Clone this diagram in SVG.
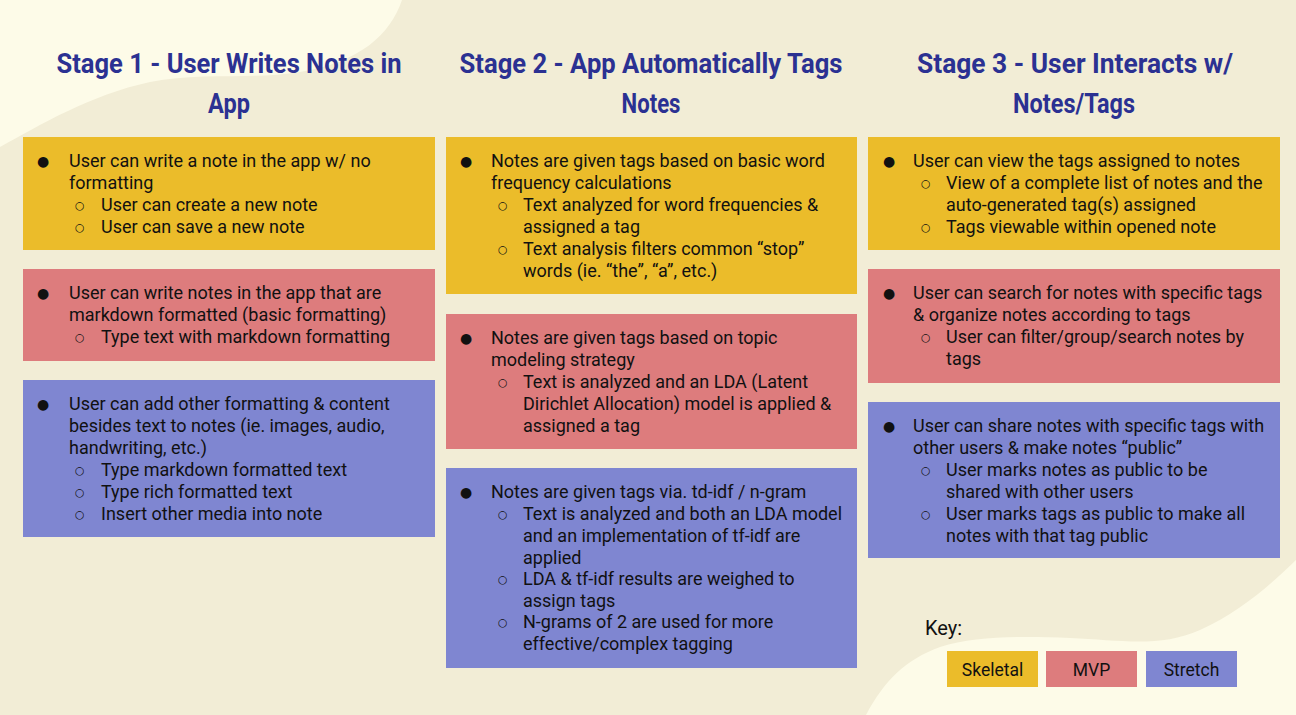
<svg xmlns="http://www.w3.org/2000/svg" width="1296" height="715" viewBox="0 0 1296 715">
<style>
.title{font-family:"Liberation Sans Narrow","Roboto",sans-serif;font-weight:bold;font-size:28px;fill:#2B3192;text-anchor:middle}
.t{font-family:"Roboto","Liberation Sans",sans-serif;font-size:18px;fill:#111}
.b{font-family:"DejaVu Sans",sans-serif;font-size:14px;fill:#111}
.c{font-family:"DejaVu Sans",sans-serif;font-size:11px;fill:#111}
.sk{fill:#EBBC2A}
.mvp{fill:#DD7C7D}
.st{fill:#7F86D1}
.keyt{font-family:"Roboto","Liberation Sans",sans-serif;font-size:17.5px;fill:#111;text-anchor:middle}
</style>
<rect width="1296" height="715" fill="#F2EDD6"/>
<path d="M0,0 L402,0 C390,35 360,62 300,72 C250,80 200,72 150,82 C90,95 40,125 0,147 Z" fill="#FDFBE8"/>
<path d="M866,715 C885,680 905,660 940,647 C975,636 1020,636 1070,638 C1120,640 1160,648 1200,630 C1240,612 1270,585 1296,560 L1296,715 Z" fill="#FDFBE8"/>

<g id="titles">
<text class="title" x="229" y="73" textLength="345" lengthAdjust="spacingAndGlyphs">Stage 1 - User Writes Notes in</text>
<text class="title" x="229" y="113" textLength="42" lengthAdjust="spacingAndGlyphs">App</text>
<text class="title" x="651" y="73" textLength="383" lengthAdjust="spacingAndGlyphs">Stage 2 - App Automatically Tags</text>
<text class="title" x="651" y="113" textLength="59" lengthAdjust="spacingAndGlyphs">Notes</text>
<text class="title" x="1075" y="73" textLength="316" lengthAdjust="spacingAndGlyphs">Stage 3 - User Interacts w/</text>
<text class="title" x="1074" y="113" textLength="122" lengthAdjust="spacingAndGlyphs">Notes/Tags</text>
</g>

<g id="s1-skeletal">
<rect class="sk" x="23" y="137" width="412" height="113"/>
<text class="b" x="37" y="166">●</text>
<text class="t" x="69" y="167">User can write a note in the app w/ no</text>
<text class="t" x="69" y="189">formatting</text>
<text class="c" x="75" y="209">○</text>
<text class="t" x="101" y="211">User can create a new note</text>
<text class="c" x="75" y="231">○</text>
<text class="t" x="101" y="233">User can save a new note</text>
</g>

<g id="s1-mvp">
<rect class="mvp" x="23" y="269" width="412" height="92"/>
<text class="b" x="37" y="298">●</text>
<text class="t" x="69" y="299">User can write notes in the app that are</text>
<text class="t" x="69" y="321">markdown formatted (basic formatting)</text>
<text class="c" x="75" y="341">○</text>
<text class="t" x="101" y="343">Type text with markdown formatting</text>
</g>

<g id="s1-stretch">
<rect class="st" x="23" y="380" width="412" height="157"/>
<text class="b" x="37" y="409">●</text>
<text class="t" x="69" y="410">User can add other formatting &amp; content</text>
<text class="t" x="69" y="432">besides text to notes (ie. images, audio,</text>
<text class="t" x="69" y="454">handwriting, etc.)</text>
<text class="c" x="75" y="474">○</text>
<text class="t" x="101" y="476">Type markdown formatted text</text>
<text class="c" x="75" y="496">○</text>
<text class="t" x="101" y="498">Type rich formatted text</text>
<text class="c" x="75" y="518">○</text>
<text class="t" x="101" y="520">Insert other media into note</text>
</g>

<g id="s2-skeletal">
<rect class="sk" x="446" y="137" width="411" height="157"/>
<text class="b" x="460" y="166">●</text>
<text class="t" x="491" y="167">Notes are given tags based on basic word</text>
<text class="t" x="491" y="189">frequency calculations</text>
<text class="c" x="498" y="209">○</text>
<text class="t" x="523" y="211">Text analyzed for word frequencies &amp;</text>
<text class="t" x="523" y="233">assigned a tag</text>
<text class="c" x="498" y="253">○</text>
<text class="t" x="523" y="255">Text analysis filters common “stop”</text>
<text class="t" x="523" y="277">words (ie. “the”, “a”, etc.)</text>
</g>

<g id="s2-mvp">
<rect class="mvp" x="446" y="314" width="411" height="135"/>
<text class="b" x="460" y="343">●</text>
<text class="t" x="491" y="344">Notes are given tags based on topic</text>
<text class="t" x="491" y="366">modeling strategy</text>
<text class="c" x="498" y="386">○</text>
<text class="t" x="523" y="388">Text is analyzed and an LDA (Latent</text>
<text class="t" x="523" y="410">Dirichlet Allocation) model is applied &amp;</text>
<text class="t" x="523" y="432">assigned a tag</text>
</g>

<g id="s2-stretch">
<rect class="st" x="446" y="468" width="411" height="200"/>
<text class="b" x="460" y="497">●</text>
<text class="t" x="491" y="498">Notes are given tags via. td-idf / n-gram</text>
<text class="c" x="498" y="518">○</text>
<text class="t" x="523" y="520">Text is analyzed and both an LDA model</text>
<text class="t" x="523" y="542">and an implementation of tf-idf are</text>
<text class="t" x="523" y="564">applied</text>
<text class="c" x="498" y="583">○</text>
<text class="t" x="523" y="585">LDA &amp; tf-idf results are weighed to</text>
<text class="t" x="523" y="607">assign tags</text>
<text class="c" x="498" y="626">○</text>
<text class="t" x="523" y="628">N-grams of 2 are used for more</text>
<text class="t" x="523" y="650">effective/complex tagging</text>
</g>

<g id="s3-skeletal">
<rect class="sk" x="868" y="137" width="412" height="113"/>
<text class="b" x="883" y="166">●</text>
<text class="t" x="913" y="167">User can view the tags assigned to notes</text>
<text class="c" x="921" y="187">○</text>
<text class="t" x="946" y="189">View of a complete list of notes and the</text>
<text class="t" x="946" y="211">auto-generated tag(s) assigned</text>
<text class="c" x="921" y="231">○</text>
<text class="t" x="946" y="233">Tags viewable within opened note</text>
</g>

<g id="s3-mvp">
<rect class="mvp" x="868" y="269" width="412" height="114"/>
<text class="b" x="883" y="298">●</text>
<text class="t" x="913" y="299">User can search for notes with specific tags</text>
<text class="t" x="913" y="321">&amp; organize notes according to tags</text>
<text class="c" x="921" y="341">○</text>
<text class="t" x="946" y="343">User can filter/group/search notes by</text>
<text class="t" x="946" y="365">tags</text>
</g>

<g id="s3-stretch">
<rect class="st" x="868" y="402" width="412" height="156"/>
<text class="b" x="883" y="431">●</text>
<text class="t" x="913" y="432">User can share notes with specific tags with</text>
<text class="t" x="913" y="454">other users &amp; make notes “public”</text>
<text class="c" x="921" y="474">○</text>
<text class="t" x="946" y="476">User marks notes as public to be</text>
<text class="t" x="946" y="498">shared with other users</text>
<text class="c" x="921" y="518">○</text>
<text class="t" x="946" y="520">User marks tags as public to make all</text>
<text class="t" x="946" y="542">notes with that tag public</text>
</g>

<g id="key">
<text x="925" y="635" style="font-family:'Roboto','Liberation Sans',sans-serif;font-size:20px;fill:#111">Key:</text>
<rect class="sk" x="947" y="651" width="91" height="36"/>
<text class="keyt" x="992.5" y="676">Skeletal</text>
<rect class="mvp" x="1046" y="651" width="91" height="36"/>
<text class="keyt" x="1091.5" y="676">MVP</text>
<rect class="st" x="1146" y="651" width="91" height="36"/>
<text class="keyt" x="1191.5" y="676">Stretch</text>
</g>
</svg>
